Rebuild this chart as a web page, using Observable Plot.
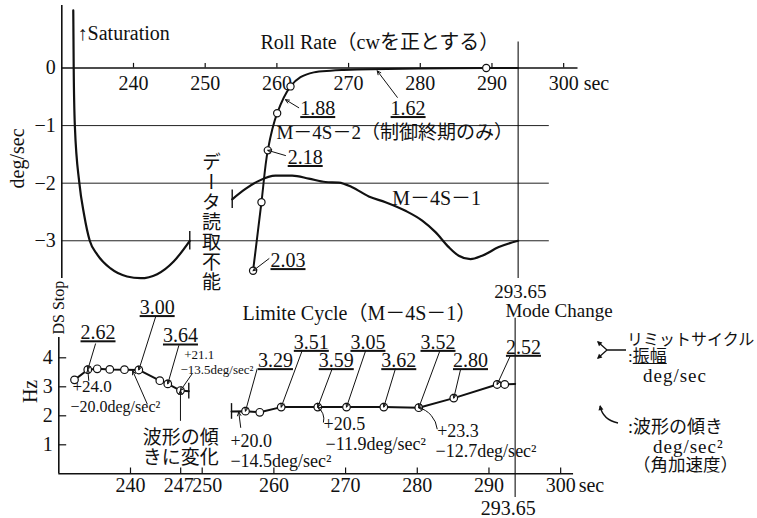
<!DOCTYPE html>
<html><head><meta charset="utf-8">
<script src="https://cdn.jsdelivr.net/npm/d3@7"></script>
<script src="https://cdn.jsdelivr.net/npm/@observablehq/plot@0.6"></script>
<style>
body{margin:0;background:#fff;}
#wrap{position:relative;width:757px;height:518px;overflow:hidden;font-family:"Liberation Serif","Noto Sans CJK JP",serif;color:#111;}
#wrap > svg{position:absolute;left:0;overflow:visible;}
.lg{position:absolute;white-space:nowrap;line-height:1;}
</style></head><body><div id="wrap"></div>
<script>
// ---------- data ----------
const xTicksTop = [240, 250, 260, 270, 280, 290, 300];
const xTicksBottom = [240, 247, 250, 260, 270, 280, 290, 300];
const yTicksTop = [0, -1, -2, -3];
const yTickLabelsTop = ["0", "−1", "−2", "−3"];
const yTicksBottom = [1, 2, 3, 4];
const modeChange = 293.65;

// Roll rate, M-4S-1 before data loss (saturation)
const m1aTime = [231.6, 231.63, 231.66, 231.82, 232.45, 233.1, 233.9, 234.95, 236.8, 239.1, 241.0, 243.3, 245.6, 247.85];
const m1aRate = [1.0, 0.5, 0, -1, -2, -2.54, -3.0, -3.24, -3.48, -3.62, -3.65, -3.58, -3.36, -3.0];
// Roll rate, M-4S-1 after data gap
const m1bTime = [253.77, 255.62, 257.48, 259.8, 262.13, 264.45, 266.78, 268.63, 270.5, 272.82, 275.15, 277.94, 280.27, 282.12, 283.97, 285.37, 287.0, 288.63, 290.95, 293.65];
const m1bRate = [-2.28, -2.10, -1.96, -1.87, -1.87, -1.92, -1.98, -1.99, -2.07, -2.23, -2.33, -2.48, -2.65, -2.85, -3.11, -3.26, -3.32, -3.26, -3.11, -3.0];
// Roll rate, M-4S-2 (end of control only)
const m2Time = [256.68, 257.85, 258.73, 260.04, 261.9, 263.29, 265.15, 267.48, 269.33, 273.1, 280, 289.2, 293.65];
const m2Rate = [-3.52, -2.33, -1.43, -0.785, -0.32, -0.16, -0.076, -0.047, -0.035, -0.02, -0.01, 0, 0];
const m2Marked = [1, 1, 1, 1, 1, 0, 0, 0, 0, 0, 0, 1, 0];

// Limit cycle frequency (Hz), M-4S-1
const lc1Time = [232.19, 234.04, 235.36, 237.11, 239.16, 241.16, 244.09, 245.2, 246.97, 248.13];
const lc1Freq = [3.24, 3.59, 3.62, 3.60, 3.59, 3.58, 3.21, 3.10, 2.87, 2.85];
const lc1Marked = [1, 1, 1, 1, 1, 1, 1, 1, 1, 0];
const lc2Time = [254.09, 256.04, 258.03, 261.02, 266.12, 270.13, 275.33, 280.21, 285.09, 291.14, 292.2, 293.65];
const lc2Freq = [2.15, 2.16, 2.12, 2.30, 2.30, 2.30, 2.30, 2.28, 2.61, 3.08, 3.08, 3.10];
const lc2Marked = [0, 1, 1, 1, 1, 1, 1, 1, 1, 1, 1, 0];

const underlined = new Set(["1.88", "1.62", "2.18", "2.03", "2.62", "3.00", "3.64", "3.29", "3.51", "3.59", "3.05", "3.62", "3.52", "2.80", "2.52"]);

// ---------- helpers ----------
const zip = (T, V, M) => T.map((t, i) => ({t, v: V[i], m: M ? M[i] : 1}));
const m1a = zip(m1aTime, m1aRate), m1b = zip(m1bTime, m1bRate), m2 = zip(m2Time, m2Rate, m2Marked);
const lc1 = zip(lc1Time, lc1Freq, lc1Marked), lc2 = zip(lc2Time, lc2Freq, lc2Marked);
const font = '"Liberation Serif","Noto Sans CJK JP",serif';

// ---------- annotations ----------
const topNotes = [
  {label: "↑Saturation", t: 232.2, v: 0.60, a: "start", s: 20},
  {label: "Roll Rate（cwを正とする）", t: 257.71, v: 0.44, a: "start", s: 20},
  {label: "1.88", t: 265.7, v: -0.70, a: "middle", s: 20},
  {label: "1.62", t: 278.3, v: -0.70, a: "middle", s: 20},
  {label: "M－4S－2（制御終期のみ）", t: 259.94, v: -1.115, a: "start", s: 19},
  {label: "2.18", t: 263.95, v: -1.55, a: "middle", s: 20},
  {label: "M－4S－1", t: 276.08, v: -2.27, a: "start", s: 20},
  {label: "2.03", t: 261.55, v: -3.34, a: "middle", s: 20}
];
const topArrows = [
  {x1: 263.05, y1: -0.69, x2: 261.2, y2: -0.55, inset: 0},
  {x1: 276.8, y1: -0.51, x2: 274.0, y2: -0.05, inset: 0},
  {x1: 261.2, y1: -1.52, x2: m2[2].t, y2: m2[2].v, inset: 4},
  {x1: 258.9, y1: -3.31, x2: m2[0].t, y2: m2[0].v, inset: 4}
];
const bottomNotes = [
  {label: "2.62", t: 235.47, v: 4.87, a: "middle", s: 20},
  {label: "3.00", t: 243.72, v: 5.74, a: "middle", s: 20},
  {label: "3.64", t: 246.97, v: 4.76, a: "middle", s: 20},
  {label: "+21.1", t: 247.5, v: 4.12, a: "start", s: 13},
  {label: "−13.5deg/sec²", t: 246.97, v: 3.58, a: "start", s: 13},
  {label: "+24.0", t: 231.91, v: 3.01, a: "start", s: 17},
  {label: "−20.0deg/sec²", t: 231.63, v: 2.32, a: "start", s: 16},
  {label: "波形の傾\nきに変化", t: 247.02, v: 0.915, a: "middle", s: 19},
  {label: "+20.0", t: 253.94, v: 1.15, a: "start", s: 18},
  {label: "−14.5deg/sec²", t: 253.94, v: 0.46, a: "start", s: 18},
  {label: "3.29", t: 260.22, v: 3.91, a: "middle", s: 20},
  {label: "3.51", t: 265.22, v: 4.54, a: "middle", s: 20},
  {label: "3.59", t: 268.7, v: 3.91, a: "middle", s: 20},
  {label: "3.05", t: 273.12, v: 4.54, a: "middle", s: 20},
  {label: "3.62", t: 277.42, v: 3.91, a: "middle", s: 20},
  {label: "3.52", t: 282.89, v: 4.54, a: "middle", s: 20},
  {label: "2.80", t: 287.42, v: 3.91, a: "middle", s: 20},
  {label: "2.52", t: 294.81, v: 4.37, a: "middle", s: 20},
  {label: "+20.5", t: 266.92, v: 1.72, a: "start", s: 18},
  {label: "−11.9deg/sec²", t: 267.2, v: 1.03, a: "start", s: 18},
  {label: "+23.3", t: 282.78, v: 1.49, a: "start", s: 18},
  {label: "−12.7deg/sec²", t: 282.54, v: 0.80, a: "start", s: 18},
  {label: "Limite Cycle（M－4S－1）", t: 255.62, v: 5.53, a: "start", s: 20},
  {label: "293.65", t: 294.39, v: 6.27, a: "middle", s: 19},
  {label: "Mode Change", t: 292.3, v: 5.63, a: "start", s: 19},
  {label: "293.65", t: 292.7, v: -1.2, a: "middle", s: 20}
];
const to = (p) => ({x2: p.t, y2: p.v});
const bottomArrows = [
  {x1: 235.12, y1: 4.48, ...to(lc1[1]), inset: 4},
  {x1: 243.49, y1: 5.40, ...to(lc1[5]), inset: 4},
  {x1: 246.74, y1: 4.42, ...to(lc1[7]), inset: 4},
  {x1: 248.6, y1: 3.45, ...to(lc1[8]), inset: 4},
  {x1: 234.18, y1: 3.22, ...to(lc1[1]), inset: 4},
  {x1: 242.33, y1: 2.41, x2: 240.3, y2: 3.55, inset: 1},
  {x1: 246.97, y1: 1.84, ...to(lc1[8]), inset: 5},
  {x1: 255.37, y1: 1.60, x2: 255.1, y2: 2.13, inset: 1},
  {x1: 257.67, y1: 3.62, ...to(lc2[1]), inset: 4},
  {x1: 263.95, y1: 4.25, ...to(lc2[3]), inset: 4},
  {x1: 268.13, y1: 3.62, ...to(lc2[4]), inset: 4},
  {x1: 272.78, y1: 4.23, ...to(lc2[5]), inset: 4},
  {x1: 276.95, y1: 3.62, ...to(lc2[6]), inset: 4},
  {x1: 283.14, y1: 4.23, ...to(lc2[7]), inset: 4},
  {x1: 286.03, y1: 3.59, ...to(lc2[8]), inset: 4},
  {x1: 293.0, y1: 4.08, ...to(lc2[9]), inset: 4}
];
const bentArrows = [
  {x1: 266.92, y1: 1.78, ...to(lc2[4]), inset: 4},
  {x1: 282.78, y1: 1.55, ...to(lc2[7]), inset: 4}
];

function noteMarks(notes) {
  return ["start", "middle"].map(a => Plot.text(notes.filter(d => d.a === a), {
    x: "t", y: "v", text: "label", fontSize: "s", textAnchor: a, lineHeight: 1.05
  }));
}
function arrowMark(data, bend) {
  return Plot.arrow(data, {x1: "x1", y1: "y1", x2: "x2", y2: "y2", insetEnd: "inset",
    bend, headLength: 6, headAngle: 50, stroke: "#111", strokeWidth: 1});
}

// ---------- top panel: roll rate ----------
const topYDomain = [-3.655, 1.085];
const topPlot = Plot.plot({
  width: 757, height: 280,
  marginTop: 5, marginBottom: 2, marginLeft: 61.3, marginRight: 179.5,
  x: {domain: [230, 302], axis: null},
  y: {domain: topYDomain, axis: null},
  style: {fontFamily: font, fontSize: "20px", overflow: "visible", background: "transparent", color: "#111"},
  marks: [
    Plot.ruleY(yTicksTop.slice(1), {x1: 230, x2: 298, stroke: "#222", strokeWidth: 1}),
    Plot.ruleY([0], {x1: 230, x2: 302, stroke: "#111", strokeWidth: 1.6}),
    Plot.ruleX([230], {y1: topYDomain[0], y2: topYDomain[1], stroke: "#111", strokeWidth: 1.6}),
    Plot.ruleX([modeChange], {y1: topYDomain[0], y2: 0.45, stroke: "#111", strokeWidth: 1.1}),
    Plot.ruleX(xTicksTop, {x: d => d, y1: 0, y2: 0.08, stroke: "#111", strokeWidth: 1.2}),
    Plot.text(xTicksTop, {x: d => d, y: 0, dy: 16, text: d => String(d), fontSize: 20}),
    Plot.text(["sec"], {x: xTicksTop[xTicksTop.length - 1], y: 0, dy: 16, dx: 20, textAnchor: "start", fontSize: 20}),
    Plot.text(yTicksTop, {x: 230, y: d => d, dx: -6, textAnchor: "end", text: (d, i) => yTickLabelsTop[i], fontSize: 20}),
    Plot.text(["deg/sec"], {x: 230, y: -1.57, dx: -44, rotate: -90, fontSize: 20}),
    Plot.line(m1a, {x: "t", y: "v", curve: "monotone-x", stroke: "#111", strokeWidth: 2.2}),
    Plot.line(m1b, {x: "t", y: "v", curve: "monotone-x", stroke: "#111", strokeWidth: 2.2}),
    Plot.ruleX([m1a[m1a.length - 1], m1b[0]], {x: "t", y1: d => d.v - 0.16, y2: d => d.v + 0.16, stroke: "#111", strokeWidth: 1.4}),
    Plot.line(m2, {x: "t", y: "v", curve: "catmull-rom", stroke: "#111", strokeWidth: 2}),
    Plot.dot(m2.filter(d => d.m), {x: "t", y: "v", r: 3.6, fill: "white", stroke: "#111", strokeWidth: 1.2}),
    arrowMark(topArrows, 0),
    ...noteMarks(topNotes),
    Plot.text(["データ読取不能"], {x: 250.6, y: -2.58, fontSize: 19})
  ]
});

// ---------- bottom panel: limit cycle ----------
const botYDomain = [0, 4.70];
const plainBottomTicks = xTicksBottom.filter(d => d !== 247 && d !== 250);
const bottomPlot = Plot.plot({
  width: 757, height: 238,
  marginTop: 57, marginBottom: 44.7, marginLeft: 58.3, marginRight: 182.5,
  x: {domain: [230, 302], axis: null},
  y: {domain: botYDomain, axis: null},
  style: {fontFamily: font, fontSize: "20px", overflow: "visible", background: "transparent", color: "#111"},
  marks: [
    Plot.ruleY([0], {x1: 230, x2: 301.8, stroke: "#111", strokeWidth: 1.6}),
    Plot.ruleX([230], {y1: 0, y2: botYDomain[1], stroke: "#111", strokeWidth: 1.6}),
    Plot.ruleY(yTicksBottom, {y: d => d, x1: 230, x2: 231.1, stroke: "#111", strokeWidth: 1.2}),
    Plot.text(yTicksBottom, {x: 230, y: d => d, dx: -6, textAnchor: "end", text: d => String(d), fontSize: 20}),
    Plot.ruleX(xTicksBottom, {x: d => d, y1: 0, y2: 0.2, stroke: "#111", strokeWidth: 1.2}),
    Plot.text(plainBottomTicks, {x: d => d, y: 0, dy: 12, text: d => String(d), fontSize: 20}),
    Plot.text([247], {x: d => d, y: 0, dy: 12, dx: -2, text: d => String(d), fontSize: 20}),
    Plot.text([250], {x: d => d, y: 0, dy: 12, dx: 5, text: d => String(d), fontSize: 20}),
    Plot.text(["sec"], {x: xTicksBottom[xTicksBottom.length - 1], y: 0, dy: 12, dx: 18, textAnchor: "start", fontSize: 20}),
    Plot.text(["Hz"], {x: 230, y: 2.84, dx: -28, rotate: -90, fontSize: 20}),
    Plot.text(["DS Stop"], {x: 230, y: 5.73, rotate: -90, fontSize: 16}),
    Plot.ruleX([modeChange], {y1: -0.82, y2: 5.36, stroke: "#111", strokeWidth: 1.1}),
    Plot.line(lc1, {x: "t", y: "v", stroke: "#111", strokeWidth: 2}),
    Plot.line(lc2, {x: "t", y: "v", stroke: "#111", strokeWidth: 2}),
    Plot.ruleX([lc1[lc1.length - 1], lc2[0]], {x: "t", y1: d => d.v - 0.27, y2: d => d.v + 0.27, stroke: "#111", strokeWidth: 1.4}),
    Plot.dot(lc1.filter(d => d.m), {x: "t", y: "v", r: 3.8, fill: "white", stroke: "#111", strokeWidth: 1.2}),
    Plot.dot(lc2.filter(d => d.m), {x: "t", y: "v", r: 3.8, fill: "white", stroke: "#111", strokeWidth: 1.2}),
    arrowMark(bottomArrows, 0),
    arrowMark(bentArrows, -35),
    ...noteMarks(bottomNotes)
  ]
});

const wrap = document.getElementById("wrap");
topPlot.style.top = "0px";
bottomPlot.style.top = "280px";
wrap.appendChild(topPlot);
wrap.appendChild(bottomPlot);

[topPlot, bottomPlot].forEach(svg => svg.querySelectorAll("text").forEach(t => {
  const s = t.textContent;
  if (underlined.has(s)) t.style.textDecoration = "underline";
  if (s === "データ読取不能") {
    t.style.writingMode = "vertical-rl";
    t.removeAttribute("dy");
    t.style.letterSpacing = "1px";
  }
}));

// ---------- legend ----------
const legend = document.createElement("div");
legend.innerHTML = `
<svg width="757" height="518" style="position:absolute;left:0;top:0;overflow:visible" >
  <g stroke="#111" stroke-width="1.3" fill="none">
    <path d="M607,350 L598,342 M607,350 L598,358 M607,350 L626,350"/>
    <path d="M618,423 Q603,420 600,406"/>
  </g>
  <g fill="#111">
    <path d="M597,341 L602.4,342.5 L599,346.2 Z"/>
    <path d="M597,359 L602.4,357.5 L599,353.8 Z"/>
    <path d="M600,405 L603.4,409.4 L598.5,410.4 Z"/>
  </g>
</svg>
<div class="lg" style="left:627px;top:332px;font-size:16px">リミットサイクル</div>
<div class="lg" style="left:628px;top:348px;font-size:17px">:<span style="text-decoration:underline">振幅</span></div>
<div class="lg" style="left:643px;top:366px;font-size:19px;letter-spacing:1px">deg/sec</div>
<div class="lg" style="left:628px;top:418px;font-size:18px">:波形の傾き</div>
<div class="lg" style="left:653px;top:437px;font-size:19px;letter-spacing:1px">deg/sec²</div>
<div class="lg" style="left:633px;top:457px;font-size:17.5px">（角加速度）</div>`;
wrap.appendChild(legend);
</script></body></html>
